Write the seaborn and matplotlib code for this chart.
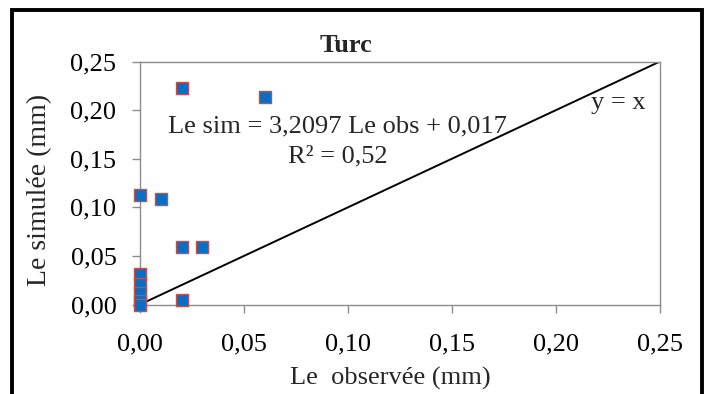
import matplotlib
matplotlib.use("Agg")
import matplotlib.pyplot as plt
import seaborn as sns
import pandas as pd
from matplotlib.patches import Rectangle
from matplotlib.ticker import FixedLocator, FuncFormatter

# --- data ---
le_observee = [0.02, 0.06, 0.00, 0.01, 0.02, 0.03, 0.02, 0.00, 0.00, 0.00, 0.00, 0.00]
le_simulee = [0.223, 0.213, 0.113, 0.109, 0.059, 0.059, 0.005, 0.031, 0.021, 0.012, 0.004, 0.000]
line_x = [0.0, 0.25]
line_y = [0.0, 0.25]
ticks = [0.00, 0.05, 0.10, 0.15, 0.20, 0.25]
title = "Turc"
xlabel = "Le  observée (mm)"
ylabel = "Le simulée (mm)"
eq_text = "Le sim = 3,2097 Le obs + 0,017"
r2_text = "R² = 0,52"
yx_text = "y = x"

sns.set_theme(style="white")
plt.rcParams["font.family"] = ["Liberation Serif", "DejaVu Serif"]

df = pd.DataFrame({"obs": le_observee, "sim": le_simulee})
dl = pd.DataFrame({"x": line_x, "y": line_y})

W, H = 705, 394
fig = plt.figure(figsize=(W / 100, H / 100), dpi=100)
ax = fig.add_axes([140 / W, 1 - 304.5 / H, 520 / W, 243 / H])

sns.lineplot(data=dl, x="x", y="y", ax=ax, color="black", linewidth=1.4, zorder=2)
sns.scatterplot(data=df, x="obs", y="sim", ax=ax, marker="s", s=80,
                color="#0A6EC4", edgecolor="#C0504D", linewidth=1.0,
                zorder=3, clip_on=False)

ax.set_xlim(0, 0.25)
ax.set_ylim(0, 0.25)
fmt = FuncFormatter(lambda v, p: f"{v:.2f}".replace(".", ","))
ax.xaxis.set_major_locator(FixedLocator(ticks))
ax.yaxis.set_major_locator(FixedLocator(ticks))
ax.xaxis.set_major_formatter(fmt)
ax.yaxis.set_major_formatter(fmt)
ax.set_xlabel("")
ax.set_ylabel("")

for sp in ax.spines.values():
    sp.set_color("#8C8C8C")
    sp.set_linewidth(1.0)
    sp.set_visible(True)

ax.tick_params(axis="both", which="major", direction="out", length=6,
               width=1.0, color="#8C8C8C", labelsize=19, labelcolor="black")
ax.tick_params(axis="x", pad=15, bottom=True, top=False)
ax.tick_params(axis="y", pad=11, left=True, right=False)

ax.text(0.095, 0.183, eq_text, ha="center", va="center", fontsize=19)
ax.text(0.095, 0.152, r2_text, ha="center", va="center", fontsize=19)
ax.text(0.230, 0.207, yx_text, ha="center", va="center", fontsize=19)

fig.text(346 / W, 1 - 45 / H, title, ha="center", va="center",
         fontsize=19, fontweight="bold")
fig.text(390 / W, 1 - 378 / H, xlabel, ha="center", va="center", fontsize=19)
fig.text(40 / W, 1 - 190 / H, ylabel, ha="center", va="center",
         fontsize=20, rotation=90)

# outer black frame (bottom edge lies below the image)
frame = Rectangle((12 / W, -0.05), (702 - 12) / W, (1 - 10.5 / H) + 0.05,
                  transform=fig.transFigure, fill=False, edgecolor="black",
                  linewidth=2.8, clip_on=False)
fig.patches.append(frame)

fig.savefig("out.png", dpi=100)
